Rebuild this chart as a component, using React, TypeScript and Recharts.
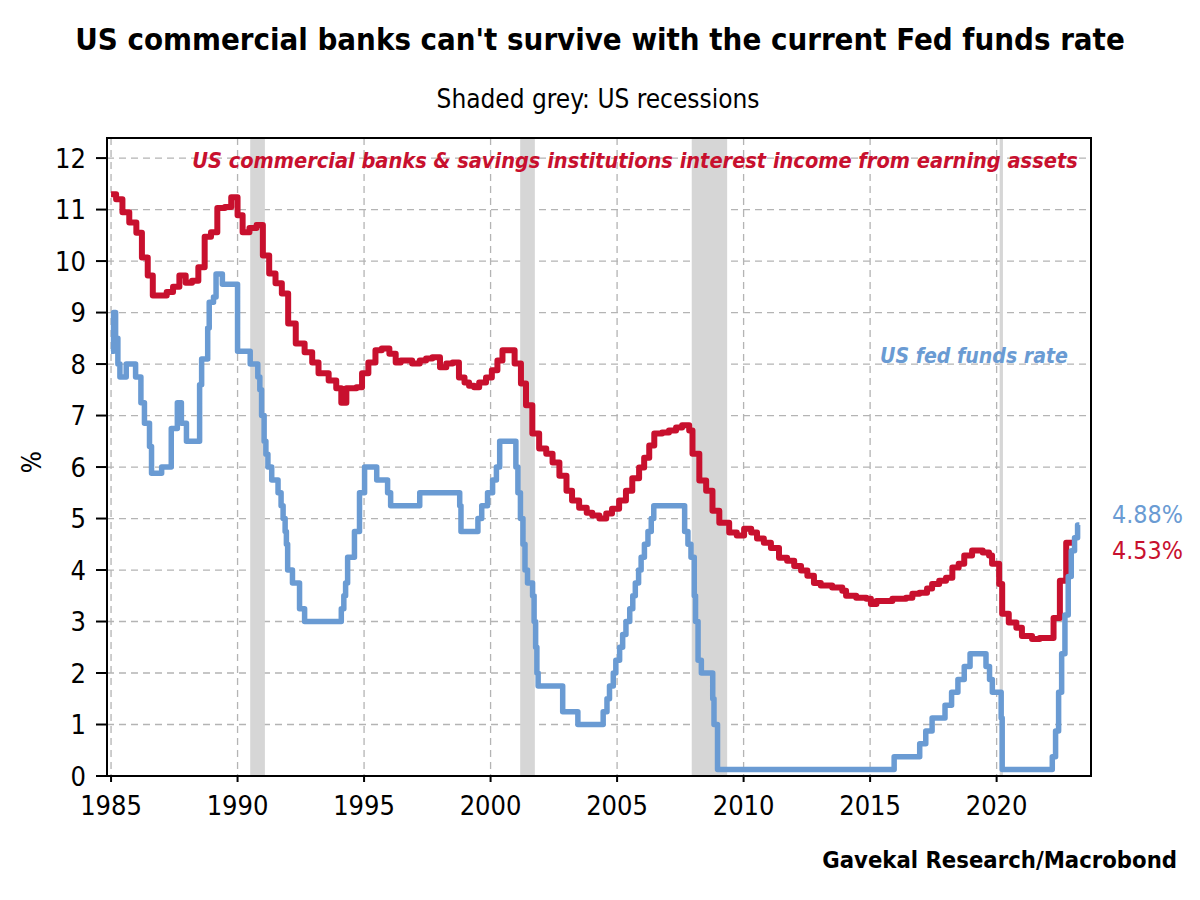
import React, { useLayoutEffect, useRef, useState } from 'react';
import { LineChart, Line, XAxis, YAxis, CartesianGrid, ReferenceArea } from 'recharts';

// US commercial banks & savings institutions interest income from earning assets (%), step start dates
const bankDates = [
  1985.0, 1985.2, 1985.45, 1985.72, 1986.0, 1986.22, 1986.45, 1986.65, 1987.2, 1987.45,
  1987.7, 1987.95, 1988.2, 1988.45, 1988.7, 1988.95, 1989.2, 1989.5, 1989.75, 1990.0,
  1990.2, 1990.47, 1990.75, 1991.0, 1991.25, 1991.5, 1991.75, 1992.0, 1992.3, 1992.65,
  1992.95, 1993.2, 1993.6, 1993.9, 1994.1, 1994.3, 1994.7, 1994.92, 1995.17, 1995.45,
  1995.7, 1996.0, 1996.25, 1996.45, 1996.9, 1997.2, 1997.45, 1997.7, 1998.0, 1998.25,
  1998.5, 1998.75, 1998.97, 1999.15, 1999.35, 1999.55, 1999.82, 2000.05, 2000.27, 2000.47,
  2000.95, 2001.2, 2001.4, 2001.65, 2001.92, 2002.2, 2002.45, 2002.72, 2003.0, 2003.22,
  2003.5, 2003.8, 2004.02, 2004.3, 2004.57, 2004.8, 2005.08, 2005.35, 2005.6, 2005.87,
  2006.07, 2006.27, 2006.47, 2006.78, 2007.05, 2007.33, 2007.57, 2007.85, 2007.98, 2008.25,
  2008.52, 2008.77, 2009.04, 2009.43, 2009.73, 2010.02, 2010.3, 2010.53, 2010.8, 2011.08,
  2011.4, 2011.72, 2012.0, 2012.27, 2012.52, 2012.78, 2013.05, 2013.5, 2013.9, 2014.05,
  2014.45, 2014.85, 2015.03, 2015.25, 2015.88, 2016.42, 2016.67, 2016.95, 2017.25, 2017.45,
  2017.73, 2018.0, 2018.25, 2018.5, 2018.72, 2019.03, 2019.45, 2019.7, 2019.82, 2020.1,
  2020.22, 2020.48, 2020.78, 2021.0, 2021.4, 2021.7, 2022.25, 2022.5, 2022.75, 2023.0,
];
const bankValues = [
  11.3, 11.2, 10.95, 10.75, 10.55, 10.07, 9.72, 9.33, 9.4, 9.5,
  9.72, 9.58, 9.62, 9.88, 10.47, 10.56, 11.03, 11.05, 11.24, 10.89,
  10.56, 10.64, 10.7, 10.11, 9.76, 9.57, 9.37, 8.79, 8.4, 8.23,
  8.03, 7.82, 7.68, 7.53, 7.25, 7.53, 7.55, 7.82, 8.03, 8.27,
  8.3, 8.2, 8.03, 8.07, 8.01, 8.07, 8.11, 8.13, 7.94, 8.01,
  8.03, 7.74, 7.64, 7.58, 7.55, 7.64, 7.74, 7.88, 8.07, 8.27,
  8.01, 7.62, 7.2, 6.65, 6.36, 6.26, 6.09, 5.83, 5.54, 5.35,
  5.21, 5.11, 5.06, 5.0, 5.1, 5.19, 5.35, 5.54, 5.78, 5.99,
  6.18, 6.42, 6.65, 6.67, 6.71, 6.77, 6.81, 6.71, 6.26, 5.74,
  5.54, 5.15, 4.92, 4.73, 4.67, 4.8, 4.73, 4.61, 4.53, 4.43,
  4.24, 4.18, 4.08, 3.99, 3.89, 3.75, 3.7, 3.66, 3.6, 3.5,
  3.46, 3.44, 3.34, 3.4, 3.44, 3.46, 3.54, 3.56, 3.64, 3.73,
  3.79, 3.85, 4.05, 4.12, 4.28, 4.38, 4.34, 4.28, 4.12, 3.73,
  3.15, 2.98, 2.88, 2.72, 2.66, 2.68, 3.07, 3.79, 4.53, 4.53,
];

// US fed funds rate (%), step start dates
const fedDates = [
  1985.0, 1985.1, 1985.18, 1985.27, 1985.35, 1985.6, 1985.97, 1986.18, 1986.32, 1986.52,
  1986.6, 1987.0, 1987.38, 1987.62, 1987.78, 1987.98, 1988.5, 1988.58, 1988.82, 1988.88,
  1989.05, 1989.15, 1989.4, 1990.0, 1990.5, 1990.8, 1990.88, 1990.95, 1991.05, 1991.12,
  1991.2, 1991.35, 1991.6, 1991.72, 1991.8, 1991.88, 1991.93, 1991.98, 1992.17, 1992.45,
  1992.65, 1994.1, 1994.2, 1994.27, 1994.35, 1994.62, 1994.82, 1995.02, 1995.5, 1995.93,
  1996.05, 1997.2, 1998.78, 1998.83, 1999.5, 1999.65, 1999.88, 2000.08, 2000.23, 2000.36,
  2001.0, 2001.08, 2001.18, 2001.28, 2001.36, 2001.46, 2001.66, 2001.72, 2001.78, 2001.83,
  2001.88, 2002.85, 2003.45, 2004.45, 2004.6, 2004.7, 2004.85, 2004.95, 2005.1, 2005.22,
  2005.35, 2005.5, 2005.62, 2005.72, 2005.85, 2005.95, 2006.08, 2006.22, 2006.35, 2006.45,
  2007.67, 2007.8, 2007.92, 2008.05, 2008.1, 2008.2, 2008.33, 2008.78, 2008.83, 2008.97,
  2015.95, 2016.96, 2017.2, 2017.45, 2017.96, 2018.22, 2018.47, 2018.72, 2018.95, 2019.58,
  2019.72, 2019.83, 2020.18, 2020.22, 2022.2, 2022.33, 2022.45, 2022.57, 2022.7, 2022.83,
  2022.95, 2023.08, 2023.2, 2023.27,
];
const fedValues = [
  8.25, 9.0, 8.5, 8.0, 7.75, 8.0, 7.75, 7.25, 6.85, 6.4,
  5.88, 6.0, 6.75, 7.25, 6.85, 6.5, 7.6, 8.1, 8.7, 9.2,
  9.3, 9.75, 9.55, 8.25, 8.0, 7.75, 7.5, 7.0, 6.5, 6.25,
  6.0, 5.75, 5.5, 5.25, 5.0, 4.75, 4.5, 4.0, 3.75, 3.25,
  3.0, 3.25, 3.5, 3.75, 4.25, 4.75, 5.5, 6.0, 5.75, 5.5,
  5.25, 5.5, 5.25, 4.75, 5.0, 5.25, 5.5, 5.75, 6.0, 6.5,
  6.0, 5.5, 5.0, 4.5, 4.0, 3.75, 3.5, 3.0, 2.5, 2.0,
  1.75, 1.25, 1.0, 1.25, 1.5, 1.75, 2.0, 2.25, 2.5, 2.75,
  3.0, 3.25, 3.5, 3.75, 4.0, 4.25, 4.5, 4.75, 5.0, 5.25,
  4.75, 4.5, 4.25, 3.5, 3.0, 2.25, 2.0, 1.5, 1.0, 0.125,
  0.375, 0.625, 0.875, 1.125, 1.375, 1.625, 1.875, 2.125, 2.375, 2.125,
  1.875, 1.625, 1.125, 0.125, 0.375, 0.875, 1.625, 2.375, 3.125, 3.875,
  4.375, 4.625, 4.875, 4.875,
];

// US recessions (start, end)
const recessionStarts = [1990.5, 2001.17, 2007.95, 2020.12];
const recessionEnds = [1991.08, 2001.75, 2009.35, 2020.25];

const xTicks = [1985, 1990, 1995, 2000, 2005, 2010, 2015, 2020];
const yTicks = [0, 1, 2, 3, 4, 5, 6, 7, 8, 9, 10, 11, 12];
const xDomain: [number, number] = [1984.84, 2023.73];
const yDomain: [number, number] = [0, 12.39];

const bankData = bankDates.map((t, i) => ({ t, v: bankValues[i] }));
const fedData = fedDates.map((t, i) => ({ t, v: fedValues[i] }));

const RED = '#C8102E';
const BLUE = '#6A9BD3';
const FONT = "'Liberation Sans Narrow', 'DejaVu Sans Condensed', 'Open Sans', sans-serif";

type FitProps = {
  x: number;
  y: number;
  width: number;
  maxSize: number;
  anchor?: 'start' | 'middle' | 'end';
  fill: string;
  weight?: string;
  italic?: boolean;
  children: string;
};

// Text whose font size shrinks (never grows past maxSize) until its width matches the reference width
function FitText({ x, y, width, maxSize, anchor = 'start', fill, weight = 'normal', italic = false, children }: FitProps) {
  const ref = useRef<SVGTextElement>(null);
  const [size, setSize] = useState(maxSize);
  useLayoutEffect(() => {
    const el = ref.current;
    if (!el) return;
    const w = el.getComputedTextLength();
    if (w > 0) {
      const s = Math.min(maxSize, (size * width) / w);
      if (Math.abs(s - size) > 0.05) setSize(s);
    }
  }, [size, width, maxSize]);
  return (
    <text
      ref={ref}
      x={x}
      y={y}
      textAnchor={anchor}
      fontSize={size}
      fontWeight={weight}
      fontStyle={italic ? 'italic' : 'normal'}
      fill={fill}
      fontFamily={FONT}
    >
      {children}
    </text>
  );
}

export default function App() {
  return (
    <div style={{ position: 'absolute', left: 0, top: 0, width: 1200, height: 900, background: '#fff' }}>
      <LineChart
        width={1200}
        height={900}
        margin={{ top: 138, right: 109, bottom: 84, left: 47 }}
        style={{ position: 'absolute', left: 0, top: 0 }}
      >
        <CartesianGrid
          xAxisId="bottom"
          yAxisId="left"
          stroke="#B4B4B4"
          strokeDasharray="7 5"
          strokeWidth={1.3}
        />
        {recessionStarts.map((s, i) => (
          <ReferenceArea
            key={i}
            x1={s}
            x2={recessionEnds[i]}
            yAxisId="left"
            xAxisId="bottom"
            fill="#D6D6D6"
            fillOpacity={1}
            stroke="none"
            ifOverflow="hidden"
          />
        ))}
        <ReferenceArea
          x1={xDomain[0]}
          x2={xDomain[1]}
          y1={yDomain[0]}
          y2={yDomain[1]}
          yAxisId="left"
          xAxisId="bottom"
          fill="none"
          fillOpacity={0}
          stroke="#000"
          strokeWidth={2}
        />
        <XAxis
          xAxisId="bottom"
          type="number"
          dataKey="t"
          domain={xDomain}
          ticks={xTicks}
          allowDataOverflow
          height={40}
          tickSize={6}
          tickMargin={14}
          axisLine={{ stroke: '#000', strokeWidth: 2 }}
          tickLine={{ stroke: '#000', strokeWidth: 2 }}
          tick={{ fontSize: 27, fill: '#000', fontFamily: FONT }}
        />
        <YAxis
          yAxisId="left"
          type="number"
          domain={yDomain}
          ticks={yTicks}
          allowDataOverflow
          width={60}
          tickSize={11}
          tickMargin={10}
          axisLine={{ stroke: '#000', strokeWidth: 2 }}
          tickLine={{ stroke: '#000', strokeWidth: 2 }}
          tick={{ fontSize: 27, fill: '#000', fontFamily: FONT }}
        />
        <Line
          data={bankData}
          dataKey="v"
          xAxisId="bottom"
          yAxisId="left"
          type="stepAfter"
          stroke={RED}
          strokeWidth={6}
          strokeLinejoin="round"
          dot={false}
          isAnimationActive={false}
        />
        <Line
          data={fedData}
          dataKey="v"
          xAxisId="bottom"
          yAxisId="left"
          type="stepAfter"
          stroke={BLUE}
          strokeWidth={5.5}
          strokeLinejoin="round"
          dot={false}
          isAnimationActive={false}
        />
      </LineChart>
      <svg
        width={1200}
        height={900}
        style={{ position: 'absolute', left: 0, top: 0, pointerEvents: 'none' }}
      >
        <FitText x={600} y={50} width={1050} maxSize={38} anchor="middle" fill="#000" weight="bold">
          US commercial banks can't survive with the current Fed funds rate
        </FitText>
        <FitText x={598} y={108} width={323} maxSize={27} anchor="middle" fill="#000">
          Shaded grey: US recessions
        </FitText>
        <FitText x={635} y={168} width={886} maxSize={25} anchor="middle" fill={RED} weight="bold" italic>
          US commercial banks &amp; savings institutions interest income from earning assets
        </FitText>
        <FitText x={974} y={363} width={188} maxSize={25} anchor="middle" fill={BLUE} weight="bold" italic>
          US fed funds rate
        </FitText>
        <FitText x={1112} y={523} width={71} maxSize={25} fill={BLUE}>
          4.88%
        </FitText>
        <FitText x={1112} y={559} width={71} maxSize={25} fill={RED}>
          4.53%
        </FitText>
        <FitText x={1177} y={868} width={355} maxSize={27} anchor="end" fill="#000" weight="bold">
          Gavekal Research/Macrobond
        </FitText>
        <text x={41} y={462} textAnchor="middle" fontSize={26} fill="#000" fontFamily={FONT} transform="rotate(-90 41 462)">
          %
        </text>
      </svg>
    </div>
  );
}
